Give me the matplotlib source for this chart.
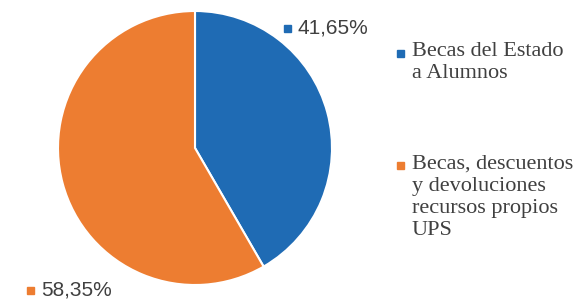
import matplotlib.pyplot as plt
from matplotlib.patches import Rectangle

labels = ["Becas del Estado\na Alumnos",
          "Becas, descuentos\ny devoluciones\nrecursos propios\nUPS"]
values = [41.65, 58.35]
value_text = ["41,65%", "58,35%"]
colors = ["#1F6BB4", "#ED7D31"]

W, H = 583, 300
fig = plt.figure(figsize=(W / 100, H / 100), dpi=100)

cx, cy, r = 195, 148, 137
ax = fig.add_axes([(cx - r) / W, (H - cy - r) / H, 2 * r / W, 2 * r / H])
wedges, _ = ax.pie(values, colors=colors, startangle=90, counterclock=False,
                   wedgeprops=dict(edgecolor="white", linewidth=1.5))
ax.set_xlim(-1, 1)
ax.set_ylim(-1, 1)
ax.set_aspect("equal")
ax.axis("off")


def square(px, py, c, s=7):
    fig.add_artist(Rectangle(((px - s / 2) / W, 1 - (py + s / 2) / H), s / W, s / H,
                             transform=fig.transFigure, color=c, clip_on=False))


# data labels (marker + value), outside the pie
label_pos = [(287, 28), (30, 290)]
for (px, py), txt, c in zip(label_pos, value_text, colors):
    square(px, py, c)
    fig.text((px + 11) / W, 1 - py / H, txt, fontsize=15, family="Liberation Sans",
             color="#404040", va="center", ha="left")

# legend, marker next to the first line of each entry
legend_pos = [(400, 53), (400, 166)]
for (px, py), txt, c in zip(legend_pos, labels, colors):
    square(px, py, c)
    fig.text((px + 12) / W, 1 - (py - 11) / H, txt, fontsize=16,
             family="Liberation Serif", color="#404040", va="top", ha="left",
             linespacing=1.22)

fig.savefig("out.png", dpi=100)
